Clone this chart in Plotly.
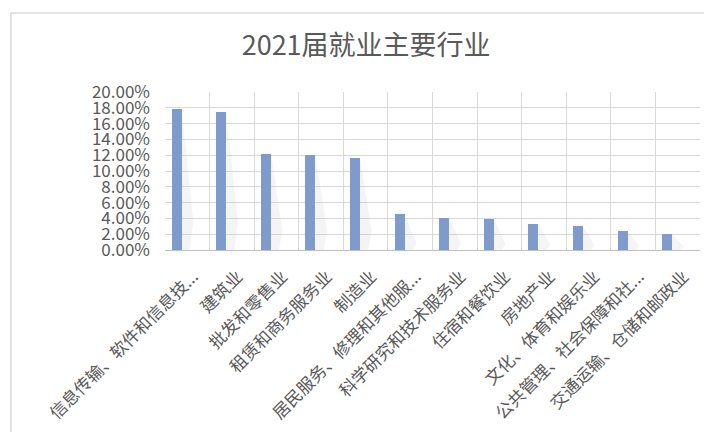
import plotly.graph_objects as go

categories = [
    "信息传输、软件和信息技...",
    "建筑业",
    "批发和零售业",
    "租赁和商务服务业",
    "制造业",
    "居民服务、修理和其他服...",
    "科学研究和技术服务业",
    "住宿和餐饮业",
    "房地产业",
    "文化、体育和娱乐业",
    "公共管理、社会保障和社...",
    "交通运输、仓储和邮政业",
]
values = [0.179, 0.1747, 0.1218, 0.1197, 0.1163, 0.0453, 0.041, 0.0398, 0.0334, 0.030, 0.0241, 0.0203]

title_text = "2021届就业主要行业"

BAR_OFFSET = -0.35
BAR_WIDTH = 0.225
FONT = "Noto Sans CJK SC, Microsoft YaHei, sans-serif"
TEXT_COLOR = "#595959"
GRID_COLOR = "#d9d9d9"

fig = go.Figure()

# soft shadows to the right of each bar (computed from the data)
for i, v in enumerate(values):
    xr = i + BAR_OFFSET + BAR_WIDTH
    fig.add_trace(go.Scatter(
        x=[xr, xr + 0.26, xr + 0.18, xr, xr],
        y=[v, 0.2 * v, 0, 0, v],
        xaxis="x2", yaxis="y",
        mode="lines", fill="toself",
        fillcolor="rgba(170,170,170,0.13)",
        line=dict(width=0),
        hoverinfo="skip", showlegend=False,
    ))

fig.add_trace(go.Bar(
    x=categories, y=values,
    offset=BAR_OFFSET, width=BAR_WIDTH,
    marker=dict(color="#7f9bcc", line=dict(width=0)),
    showlegend=False,
))

fig.update_layout(
    width=712, height=432,
    margin=dict(l=157, r=20, t=84, b=190),
    paper_bgcolor="white", plot_bgcolor="white",
    font=dict(family=FONT, color=TEXT_COLOR),
    title=dict(text=title_text, x=0.503, xanchor="center", y=0.912, yanchor="middle",
               yref="container", font=dict(size=27, color=TEXT_COLOR, family=FONT)),
    xaxis=dict(
        type="category", tickson="boundaries", showgrid=True, gridcolor=GRID_COLOR,
        gridwidth=1, ticks="", tickangle=-45, tickfont=dict(size=17, color=TEXT_COLOR),
        ticklabelstandoff=9, ticklabelshift=6,
        showline=True, linecolor="#bfbfbf", linewidth=1, range=[-0.5, 11.5],
        zeroline=False, automargin=False,
    ),
    xaxis2=dict(overlaying="x", range=[-0.5, 11.5], visible=False, showgrid=False,
                zeroline=False),
    yaxis=dict(
        range=[0, 0.20], dtick=0.02, tickformat=".2%", showgrid=True,
        gridcolor=GRID_COLOR, gridwidth=1, zeroline=False, showline=False,
        tickfont=dict(size=17, color=TEXT_COLOR), ticklabelstandoff=14,
        automargin=False,
    ),
    bargap=0,
    shapes=[dict(type="rect", xref="paper", yref="paper",
                 x0=-0.288, x1=1.2, y0=-1.3, y1=1.5,
                 line=dict(color="#c8c8c8", width=1), fillcolor="rgba(0,0,0,0)",
                 layer="below")],
)

fig.write_html("out.html")
